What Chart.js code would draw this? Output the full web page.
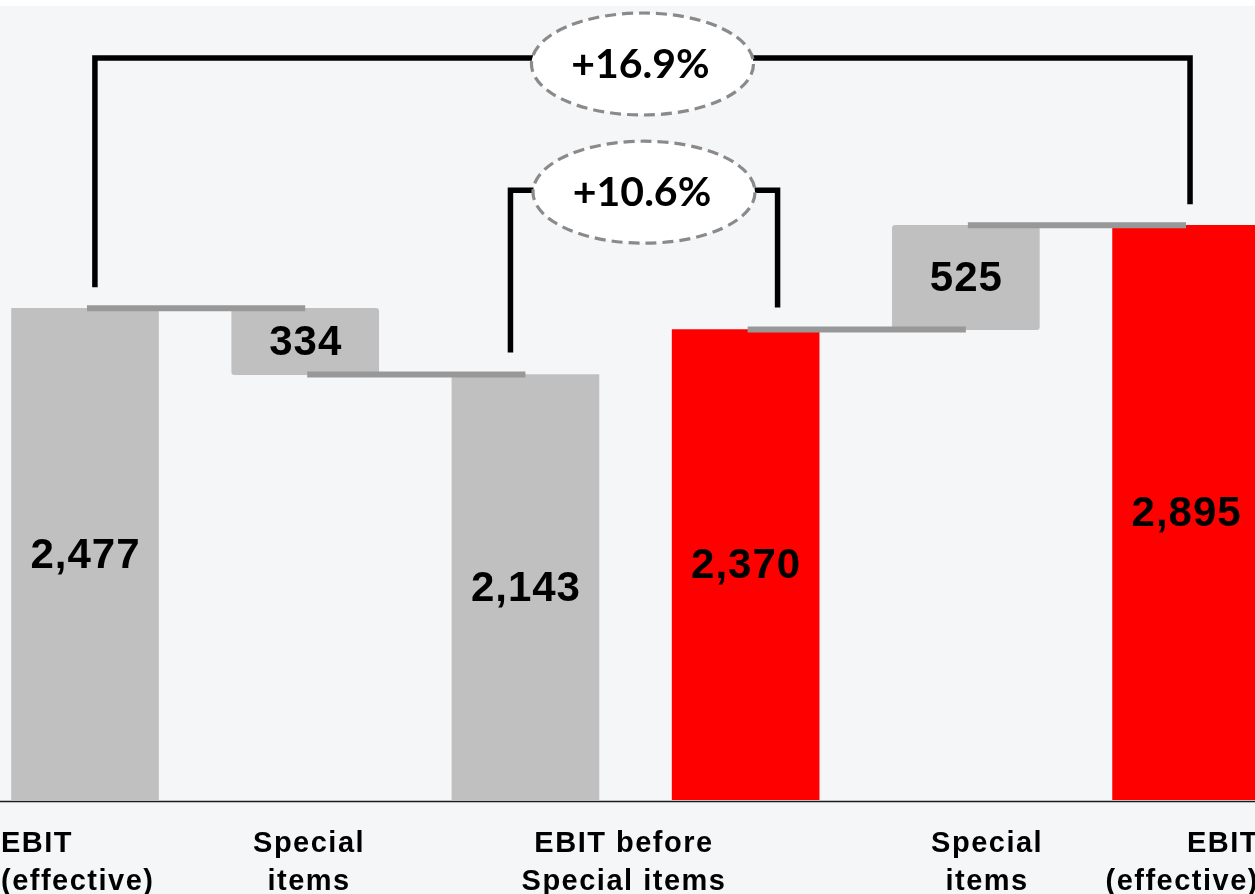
<!DOCTYPE html>
<html>
<head>
<meta charset="utf-8">
<script src="https://cdn.jsdelivr.net/npm/chart.js@4.4.1/dist/chart.umd.min.js"></script>
<style>
  html, body { margin: 0; padding: 0; background: #ffffff; }
  #wrap { width: 1255px; height: 894px; position: relative; }
</style>
</head>
<body>
<div id="wrap"><canvas id="chart"></canvas></div>
<script>
// Category captions (two lines each); the 4th bar shares the 3rd caption
const categoryLines = [
  ['EBIT', '(effective)'],
  ['Special', 'items'],
  ['EBIT before', 'Special items'],
  [],
  ['Special', 'items'],
  ['EBIT', '(effective)']
];
// Waterfall: each bar runs from barStart to barEnd (EUR m)
const barStart = [0, 2477, 0, 0, 2370, 0];
const barEnd   = [2477, 2143, 2143, 2370, 2895, 2895];
// Bars joined by a level connector
const connectorPairs = [[0, 1], [1, 2], [3, 4], [4, 5]];
// Growth brackets
const growthFrom   = [0, 2];
const growthTo     = [5, 3];
const growthLabels = ['+16.9%', '+10.6%'];

const GREY = '#c0c0c0';
const RED = '#ff0000';
const barColors = [GREY, GREY, GREY, RED, GREY, RED];

const fmt = v => Math.abs(v).toLocaleString('en-US');

const waterfallDecor = {
  id: 'waterfallDecor',
  beforeDraw(chart) {
    const { ctx, width, height } = chart;
    ctx.save();
    ctx.fillStyle = '#ffffff';
    ctx.fillRect(0, 0, width, height);
    ctx.fillStyle = '#f5f6f8';
    ctx.fillRect(0, 6, width, height - 6);
    ctx.restore();
  },
  afterDatasetsDraw(chart, args, opts) {
    const { ctx, chartArea } = chart;
    const xs = chart.scales.x, ys = chart.scales.y;
    const X = v => xs.getPixelForValue(v);
    const Y = v => ys.getPixelForValue(v);
    ctx.save();

    // level connectors between bars
    ctx.strokeStyle = '#989898';
    ctx.lineWidth = 6;
    ctx.lineCap = 'butt';
    connectorPairs.forEach(([a, b]) => {
      const y = Y(barEnd[a]);
      ctx.beginPath();
      ctx.moveTo(X(a) + 2, y);
      ctx.lineTo(X(b), y);
      ctx.stroke();
    });

    // value labels inside the bars
    ctx.fillStyle = '#000000';
    ctx.font = 'bold 42px "Liberation Sans", Arial, sans-serif';
    ctx.letterSpacing = '1px';
    ctx.textAlign = 'center';
    ctx.textBaseline = 'middle';
    barStart.forEach((s, i) => {
      const e = barEnd[i];
      const yMid = (Y(s) + Y(e)) / 2 + 2;
      ctx.fillText(fmt(e - s), X(i) + 0.5, yMid);
    });

    // x axis base line
    ctx.letterSpacing = '0px';
    ctx.strokeStyle = '#1a1a1a';
    ctx.lineWidth = 1.5;
    ctx.beginPath();
    ctx.moveTo(chartArea.left, chartArea.bottom + 1.5);
    ctx.lineTo(chartArea.right, chartArea.bottom + 1.5);
    ctx.stroke();

    // growth brackets with dashed ellipse badges
    opts.brackets.forEach((br, k) => {
      const xl = X(growthFrom[k] + br.dxFrom);
      const xr = X(growthTo[k] + br.dxTo);
      const yTop = Y(br.level);
      const yl = Y(barEnd[growthFrom[k]]) - br.gap;
      const yr = Y(barEnd[growthTo[k]]) - br.gap;
      ctx.strokeStyle = '#000000';
      ctx.lineWidth = 5.5;
      ctx.lineJoin = 'miter';
      ctx.lineCap = 'butt';
      ctx.setLineDash([]);
      ctx.beginPath();
      ctx.moveTo(xl, yl);
      ctx.lineTo(xl, yTop);
      ctx.lineTo(xr, yTop);
      ctx.lineTo(xr, yr);
      ctx.stroke();

      const cx = (xl + xr) / 2;
      const cy = yTop + br.dy;
      ctx.beginPath();
      ctx.ellipse(cx, cy, 111, 51, 0, 0, Math.PI * 2);
      ctx.fillStyle = '#ffffff';
      ctx.fill();
      ctx.strokeStyle = '#8a8a8a';
      ctx.lineWidth = 3.2;
      ctx.setLineDash([11, 6]);
      ctx.stroke();
      ctx.setLineDash([]);

      ctx.fillStyle = '#000000';
      ctx.font = 'bold 41px Lato, "Liberation Sans", sans-serif';
      ctx.textAlign = 'center';
      ctx.textBaseline = 'middle';
      ctx.fillText(growthLabels[k], cx - 2, cy + 1);
    });

    // category captions under the axis
    ctx.fillStyle = '#000000';
    ctx.font = 'bold 29px "Liberation Sans", Arial, sans-serif';
    ctx.letterSpacing = '1.5px';
    ctx.textBaseline = 'alphabetic';
    opts.captions.forEach(c => {
      const lines = categoryLines[c.i];
      let x, align;
      if (c.align === 'left') { x = chartArea.left + 1; align = 'left'; }
      else if (c.align === 'right') { x = chartArea.right + 4; align = 'right'; }
      else { x = X(c.x) + 1; align = 'center'; }
      ctx.textAlign = align;
      lines.forEach((t, j) => ctx.fillText(t, x, 852 + j * 38));
    });
    ctx.restore();
  }
};

new Chart(document.getElementById('chart'), {
  type: 'bar',
  data: {
    datasets: [{
      data: barStart.map((s, i) => ({ x: i, y: [s, barEnd[i]] })),
      backgroundColor: barColors,
      borderWidth: 0,
      borderSkipped: false,
      borderRadius: ctx => (barStart[ctx.dataIndex] !== 0 ? 3 : 0),
      barThickness: 147
    }]
  },
  options: {
    responsive: true,
    maintainAspectRatio: false,
    animation: false,
    layout: { padding: { top: 6, bottom: 94, left: 0, right: 0 } },
    plugins: {
      legend: { display: false },
      tooltip: { enabled: false },
      waterfallDecor: {
        brackets: [
          { dxFrom: 0.045, dxTo: 0.018, level: 3738, gap: 21, dy: 6 },
          { dxFrom: -0.068, dxTo: 0.145, level: 3072, gap: 22, dy: 2 }
        ],
        captions: [
          { i: 0, align: 'left' },
          { i: 1, x: 1.013 },
          { i: 2, x: 2.443 },
          { i: 4, x: 4.092 },
          { i: 5, align: 'right' }
        ]
      }
    },
    scales: {
      x: { type: 'linear', offset: false, min: -0.386, max: 5.313, display: false },
      y: { min: 0, max: 4000, display: false }
    }
  },
  plugins: [waterfallDecor]
});
</script>
</body>
</html>
